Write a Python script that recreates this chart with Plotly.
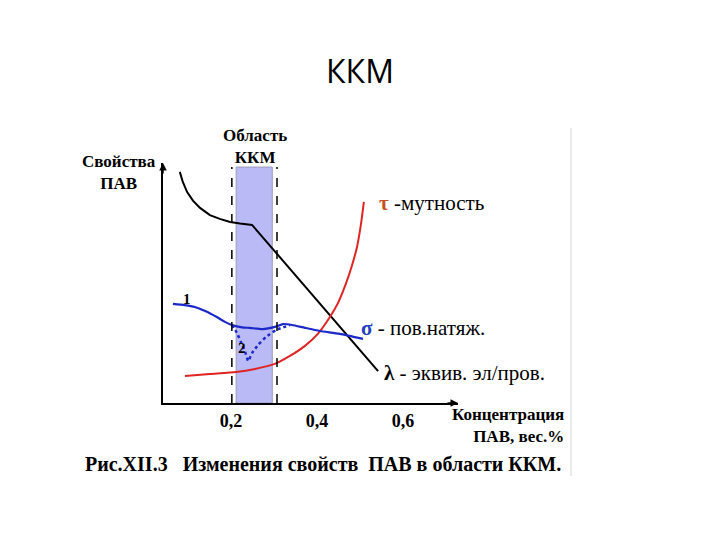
import plotly.graph_objects as go

# ---- data (arbitrary "property" units on y, concentration wt.% on x) ----
lam_x = [0.081, 0.088, 0.098, 0.112, 0.128, 0.151, 0.174, 0.198, 0.221, 0.249, 0.542]
lam_y = [96.3, 92.1, 87.9, 84.2, 81.3, 78.3, 76.7, 75.4, 74.8, 74.2, 13.3]

tau_x = [0.093, 0.151, 0.212, 0.256, 0.302, 0.337, 0.372, 0.402, 0.430, 0.449, 0.467, 0.481, 0.493, 0.502, 0.509]
tau_y = [11.3, 12.1, 12.9, 14.2, 16.3, 19.6, 23.8, 28.8, 35.8, 41.7, 49.6, 57.1, 65.0, 74.2, 83.8]

sig1_x = [0.065, 0.093, 0.116, 0.140, 0.167, 0.186, 0.202, 0.226, 0.244, 0.274, 0.302, 0.321, 0.342, 0.372, 0.407, 0.453, 0.507]
sig1_y = [41.3, 40.8, 40.0, 38.3, 35.8, 33.8, 32.5, 31.5, 31.3, 30.8, 31.7, 32.9, 32.5, 31.3, 30.0, 28.8, 26.7]

sig2_x = [0.202, 0.214, 0.223, 0.233, 0.240, 0.249, 0.263, 0.281, 0.305, 0.337]
sig2_y = [32.5, 29.2, 25.4, 21.3, 17.5, 20.8, 24.2, 27.5, 30.4, 32.5]

cmc_band = [0.212, 0.296]
cmc_dash = [0.202, 0.307]
band_top = 98.3

tick_vals = [0.2, 0.4, 0.6]
tick_text = ["0,2", "0,4", "0,6"]

SERIF = "Liberation Serif, DejaVu Serif, serif"

fig = go.Figure()
fig.add_trace(go.Scatter(x=lam_x, y=lam_y, mode="lines", line=dict(color="black", width=2)))
fig.add_trace(go.Scatter(x=tau_x, y=tau_y, mode="lines", line=dict(color="#e02424", width=2, shape="spline", smoothing=0.6)))
fig.add_trace(go.Scatter(x=sig1_x, y=sig1_y, mode="lines", line=dict(color="#1c28c8", width=2.2, shape="spline", smoothing=0.6)))
fig.add_trace(go.Scatter(x=sig2_x, y=sig2_y, mode="lines", line=dict(color="#1c28c8", width=2.5, dash="dot", shape="spline", smoothing=0.4)))

# CMC region
fig.add_shape(type="rect", xref="x", yref="y", x0=cmc_band[0], x1=cmc_band[1], y0=0, y1=band_top,
              fillcolor="#babaf6", line=dict(color="#9a9ab8", width=1), layer="below")
for xv in cmc_dash:
    fig.add_shape(type="line", xref="x", yref="y", x0=xv, x1=xv, y0=0, y1=band_top,
                  line=dict(color="black", width=1.5, dash="dash"))

# faint right border of the picture
fig.add_shape(type="line", xref="paper", yref="paper", x0=1.383, x1=1.383, y0=-0.304, y1=1.146,
              line=dict(color="#e4e4e4", width=1.5))

ann = []
# axis arrows
ann.append(dict(xref="paper", yref="paper", x=0, y=1.0, ax=0, ay=12, text="", showarrow=True,
                arrowhead=2, arrowsize=1, arrowwidth=1.5, arrowcolor="black"))
ann.append(dict(xref="paper", yref="paper", x=1.0, y=0, ax=-12, ay=0, text="", showarrow=True,
                arrowhead=2, arrowsize=1, arrowwidth=1.5, arrowcolor="black"))

bold = dict(family=SERIF, size=17, color="black", weight="bold")
reg = dict(family=SERIF, size=21, color="black")


def txt(x, y, text, font, xanchor="center", align="center"):
    ann.append(dict(xref="paper", yref="paper", x=x, y=y, xanchor=xanchor, yanchor="middle",
                    text=text, showarrow=False, font=font, align=align))


txt(0.312, 1.067, "Область<br>ККМ", bold)
txt(-0.149, 0.9625, "Свойства<br>ПАВ", bold)
txt(1.366, -0.092, "Концентрация<br>ПАВ, вес.%", bold, xanchor="right", align="right")
txt(0.542, -0.254, "Рис.XII.3   Изменения свойств  ПАВ в области ККМ.",
    dict(family=SERIF, size=20, color="black", weight="bold"))

txt(0.725, 0.833, '<span style="color:#c8501e"><b>τ</b></span> -мутность', reg, xanchor="left")
txt(0.664, 0.3125, '<span style="color:#2040c0"><b>σ</b></span> - пов.натяж.', reg, xanchor="left")
txt(0.742, 0.125, '<b>λ</b> - эквив. эл/пров.', reg, xanchor="left")

ann.append(dict(xref="x", yref="y", x=0.098, y=43.3, text="1", showarrow=False,
                font=dict(family=SERIF, size=15, color="black", weight="bold")))
ann.append(dict(xref="x", yref="y", x=0.226, y=22.9, text="2", showarrow=False,
                font=dict(family=SERIF, size=15, color="black", weight="bold")))

fig.update_layout(
    width=720, height=540,
    margin=dict(l=163, r=262, t=163, b=137),
    paper_bgcolor="white", plot_bgcolor="white",
    showlegend=False,
    title=dict(text="ККМ", x=0.5, xref="container", xanchor="center", y=1 - 72 / 540, yanchor="middle",
               font=dict(family="Open Sans", size=32, color="black")),
    annotations=ann,
)
fig.update_xaxes(range=[0.0419, 0.7279], showgrid=False, zeroline=False, showline=True, linecolor="black",
                 linewidth=2, tickvals=tick_vals, ticktext=tick_text, ticks="",
                 tickfont=dict(family=SERIF, size=18, color="black", weight="bold"))
fig.update_yaxes(range=[0, 100], showgrid=False, zeroline=False, showline=True, linecolor="black",
                 linewidth=2, showticklabels=False, ticks="")

fig.write_html("out.html")
